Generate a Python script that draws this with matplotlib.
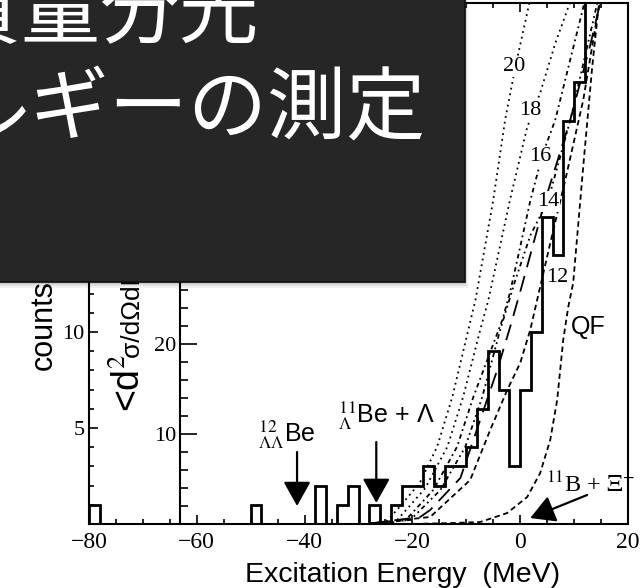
import numpy as np
import matplotlib
matplotlib.use("Agg")
import matplotlib.pyplot as plt
from matplotlib.patches import Rectangle
from matplotlib.ticker import MultipleLocator, FixedLocator

plt.rcParams['mathtext.fontset'] = 'stix'
plt.rcParams['font.family'] = ['Liberation Sans', 'DejaVu Sans']

# ---- measured spectrum: 2 MeV bins from -80 to 20 MeV ----
bin_edges = np.arange(-80, 21, 2)
counts = [1, 0, 0, 0, 0, 0, 0, 0, 0, 0,
          0, 0, 0, 0, 0, 1, 0, 0, 0, 0,
          0, 2, 0, 1, 2, 0, 1, 0, 1, 2,
          2, 3, 2, 3, 3, 4, 6, 9, 7, 3,
          7, 10, 16, 14, 21, 23, 31, 36, 40, 38]
count_ticks = [5, 10, 15, 20, 25]
xsec_ticks = [10, 20, 30, 40, 50]

# ---- calculated spectra (cross section scale), labelled by potential depth ----
e_v20 = [-28, -25.0, -22.8, -18.6, -15.4, -12.6, -8.3, -5.0, -2.8, -0.9, 1.7, 2.2]
s_v20 = [0.05, 0.2, 1.6, 4.6, 8.6, 14.1, 24.9, 36.0, 44.9, 50.8, 57.9, 59.5]

e_v18 = [-28, -23.2, -20.8, -17.6, -13.5, -10.6, -7.4, -5.9, -1.9, 1.3, 3.7, 6.5, 8.9, 9.5]
s_v18 = [0.05, 0.2, 1.8, 4.0, 8.6, 14.1, 21.6, 24.9, 36.0, 44.1, 47.9, 53.4, 57.4, 58.5]

e_v16 = [-28, -21.3, -16.1, -11.7, -8.7, -3.3, -1.9, 0.0, 1.9, 4.1, 6.5, 11.9, 12.4]
s_v16 = [0.05, 0.4, 3.8, 8.6, 14.1, 22.7, 25.7, 30.8, 36.0, 41.0, 44.9, 57.9, 58.8]

e_v14 = [-28, -20.4, -14.8, -10.2, -7.05, -3.7, -0.9, 1.9, 5.2, 9.3, 14.3, 14.8]
s_v14 = [0.05, 0.44, 3.78, 8.56, 14.1, 21.6, 27.1, 32.1, 36.0, 44.9, 57.9, 58.8]

e_vld = [-28, -18.55, -16.7, -11.1, -4.27, -1.86, 0.37, 4.64, 9.28, 12.99, 14.84, 15.2]
s_vld = [0.05, 0.78, 1.56, 5.11, 17.1, 21.9, 26.6, 36.0, 44.9, 53.2, 57.9, 58.8]

e_v12 = [-28, -16.7, -9.28, -5.57, -2.41, 0.0, 1.86, 5.57, 8.35, 11.69, 14.47, 14.84, 15.1]
s_v12 = [0.05, 0.78, 4.89, 10.44, 14.89, 17.89, 21.56, 31.2, 38.2, 47.1, 57.1, 57.9, 58.8]

e_qf = [-18, -12.43, -7.42, -2.41, 1.30, 3.71, 5.57, 6.86, 7.98, 8.91, 9.83, 11.69, 13.36, 14.47, 14.66]
s_qf = [0.03, 0.11, 0.22, 1.22, 3.0, 5.67, 9.33, 13.78, 20.44, 24.1, 26.8, 39.7, 50.8, 57.1, 57.9]

curve_labels = ['20', '18', '16', '14', '12', 'QF']
label_e = [-1.1, 1.86, 3.7, 5.2, 6.9, 12.6]
label_s = [50.8, 46.0, 40.8, 35.8, 27.4, 21.9]

# thresholds marked with arrows (MeV)
thr_ll_be = -41.4
thr_l_be = -26.7
thr_b_xi = 0.0

fig = plt.figure(figsize=(6.4, 5.88), dpi=100)
ax = fig.add_axes([89 / 640, 1 - 524 / 588, (628 - 89) / 640, (524 - 3) / 588])
ax.set_xlim(-80, 20)
ax.set_ylim(0, 27.14)

ax.stairs(counts, bin_edges, color='k', lw=2.0, zorder=3)

for sp in ax.spines.values():
    sp.set_linewidth(1.5)

ax.xaxis.set_major_locator(MultipleLocator(20))
ax.xaxis.set_minor_locator(MultipleLocator(5))
ax.yaxis.set_major_locator(FixedLocator(count_ticks))
ax.yaxis.set_minor_locator(MultipleLocator(1))
ax.tick_params(axis='both', which='both', direction='in', top=True, right=False,
               width=1.2, labelfontfamily='Liberation Serif')
ax.tick_params(axis='both', which='major', length=6.5)
ax.tick_params(axis='both', which='minor', length=3.6)
ax.tick_params(axis='x', labelsize=17, pad=5.5)
ax.tick_params(axis='y', labelsize=16, pad=3)

# cross-section scale on an inner axis
ax2 = ax.twinx()
ax2.set_ylim(0, 57.9)
ax2.spines['right'].set_visible(False)
ax2.spines['top'].set_visible(False)
ax2.spines['bottom'].set_visible(False)
ax2.spines['left'].set_visible(True)
ax2.spines['left'].set_position(('data', -63.1))
ax2.spines['left'].set_linewidth(1.5)
ax2.yaxis.set_ticks_position('left')
ax2.yaxis.set_major_locator(FixedLocator(xsec_ticks))
ax2.yaxis.set_minor_locator(MultipleLocator(2))
ax2.tick_params(axis='y', which='both', direction='in', width=1.2,
                labelsize=16, pad=3, labelfontfamily='Liberation Serif')
ax2.tick_params(axis='y', which='major', length=12)
ax2.tick_params(axis='y', which='minor', length=5.8)

curve_sets = [
    (e_v20, s_v20, (0, (1.0, 2.2))),
    (e_v18, s_v18, (0, (1.0, 2.2))),
    (e_v16, s_v16, (0, (2.5, 2.0, 1.0, 2.0))),
    (e_v14, s_v14, (0, (2.5, 2.0, 1.0, 2.0, 1.0, 2.0))),
    (e_vld, s_vld, (0, (9.0, 5.0))),
    (e_v12, s_v12, (0, (3.0, 2.0))),
    (e_qf, s_qf, (0, (3.0, 2.0))),
]
for e, s, ls in curve_sets:
    ax2.plot(e, s, color='k', lw=1.3, linestyle=ls, zorder=2)

for txt, xe, ys in zip(curve_labels, label_e, label_s):
    if txt == 'QF':
        ax2.text(xe, ys, txt, fontsize=18, ha='center', va='center')
    else:
        ax2.text(xe, ys, txt, fontsize=16, ha='center', va='center',
                 family='Liberation Serif',
                 bbox=dict(boxstyle='square,pad=0.05', fc='white', ec='none'))

arrow_kw = dict(arrowstyle='-|>,head_length=0.75,head_width=0.42', lw=1.6,
                color='k', mutation_scale=20, shrinkA=0, shrinkB=0)
ax.annotate('', xy=(thr_ll_be, 0.94), xytext=(thr_ll_be, 3.75), arrowprops=arrow_kw)
ax.annotate('', xy=(thr_l_be, 1.1), xytext=(thr_l_be, 4.27), arrowprops=arrow_kw)
ax.annotate('', xy=(thr_b_xi + 1.86, 0.31), xytext=(12.4, 1.51), arrowprops=arrow_kw)

ax.text(-48.6, 4.27, r'${}^{12}_{\Lambda\Lambda}$Be', fontsize=18, ha='left', va='baseline')
ax.text(-33.8, 5.26, r'${}^{11}_{\Lambda}$Be + Λ', fontsize=18, ha='left', va='baseline')
ax.text(4.8, 1.67, r'${}^{11}$B + $\Xi^{-}$', fontsize=17.5, ha='left', va='baseline',
        family='Liberation Serif')

fig.text(403 / 640, 1 - 582 / 588, 'Excitation Energy  (MeV)', fontsize=20.5,
         ha='center', va='baseline')
fig.text(44 / 640, 1 - 370 / 588, 'counts', fontsize=22, rotation=90,
         ha='center', va='bottom')
# cross-section label: large "<d²", smaller remainder, reading bottom to top
fig.text(140 / 640, 1 - 412 / 588, r'<d$^2$', fontsize=27, rotation=90,
         rotation_mode='anchor', ha='left', va='baseline')
fig.text(140 / 640, 1 - 358 / 588, 'σ/dΩdE>  (nb/sr/MeV)', fontsize=19, rotation=90,
         rotation_mode='anchor', ha='left', va='baseline')

# title panel
ov = fig.add_axes([0, 0, 1, 1], zorder=10)
ov.set_xlim(0, 640)
ov.set_ylim(588, 0)
ov.axis('off')
for k, a in [(6, 0.05), (4, 0.08), (2, 0.12)]:
    ov.add_patch(Rectangle((-10 + k * 0.5, -10 + k), 475, 292, fc='k', ec='none', alpha=a))
ov.add_patch(Rectangle((-10, -10), 475, 292, fc='#262626', ec='#0e0e0e', lw=1.2))
ov.text(258, 37, 'ハイパー核の質量分光', fontsize=57, color='white', ha='right',
        va='baseline', family=['Noto Sans CJK JP', 'DejaVu Sans'])
ov.text(425, 132, '結合エネルギーの測定', fontsize=57, color='white', ha='right',
        va='baseline', family=['Noto Sans CJK JP', 'DejaVu Sans'])

fig.savefig('out.png', dpi=100)
